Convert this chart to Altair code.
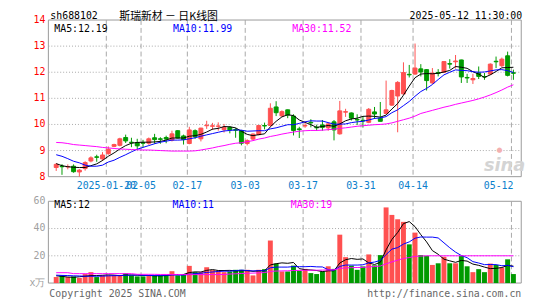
import altair as alt
import pandas as pd

# ---------------- data ----------------
idx = list(range(80))
opens = [8.35, 8.40, 8.37, 8.40, 8.18, 8.31, 8.60, 8.76, 8.68, 8.88,
         9.16, 9.20, 9.50, 9.32, 9.30, 9.30, 9.28, 9.49, 9.45, 9.50,
         9.40, 9.76, 9.56, 9.27, 9.76, 9.45, 9.95, 9.93, 9.93, 9.80,
         9.89, 9.80, 9.76, 9.27, 9.44, 9.61, 9.96, 9.96, 10.67, 10.33,
         10.56, 10.32, 9.83, 9.94, 10.08, 9.89, 9.98, 9.87, 10.10, 9.64,
         10.47, 10.44, 10.19, 10.16, 10.08, 10.48, 10.24, 10.42, 10.74, 11.09,
         11.17, 11.92, 11.93, 12.13, 12.10, 11.59, 11.99, 12.00, 12.33, 12.40,
         12.47, 11.80, 11.71, 11.97, 11.83, 11.93, 12.42, 12.25, 12.63, 11.98]
highs = [8.52, 8.48, 8.47, 8.47, 8.29, 8.59, 8.78, 8.84, 8.94, 9.16,
         9.26, 9.49, 9.61, 9.49, 9.45, 9.41, 9.50, 9.64, 9.51, 9.57,
         9.76, 9.78, 9.61, 9.91, 9.81, 9.87, 10.14, 10.06, 10.08, 10.02,
         9.94, 9.86, 9.79, 9.43, 9.66, 9.98, 10.07, 10.81, 10.89, 10.54,
         10.57, 10.39, 9.91, 10.12, 10.20, 9.99, 10.17, 10.08, 10.17, 10.90,
         10.60, 10.46, 10.39, 10.32, 10.63, 10.67, 10.86, 11.68, 11.33, 11.66,
         12.38, 12.28, 13.10, 12.31, 12.12, 12.16, 12.12, 12.42, 12.50, 12.66,
         12.48, 11.94, 11.94, 12.22, 11.97, 12.34, 12.60, 12.56, 12.79, 12.10]
lows = [8.22, 8.07, 8.28, 8.15, 8.00, 8.23, 8.55, 8.57, 8.60, 8.84,
        9.13, 9.16, 9.29, 9.13, 9.03, 9.13, 9.22, 9.26, 9.26, 9.28,
        9.35, 9.46, 9.23, 9.24, 9.45, 9.35, 9.83, 9.79, 9.76, 9.69,
        9.66, 9.49, 9.20, 9.20, 9.39, 9.58, 9.81, 9.92, 10.32, 10.29,
        10.24, 9.58, 9.48, 9.87, 9.89, 9.76, 9.76, 9.76, 9.39, 9.61,
        10.29, 10.15, 9.98, 9.88, 10.05, 10.21, 10.12, 10.40, 10.71, 9.70,
        11.15, 11.80, 11.90, 11.84, 11.30, 11.55, 11.84, 11.97, 12.14, 12.14,
        11.59, 11.59, 11.55, 11.74, 11.71, 11.90, 12.16, 12.20, 11.84, 11.71]
closes = [8.47, 8.38, 8.39, 8.19, 8.25, 8.54, 8.72, 8.74, 8.83, 9.05,
          9.23, 9.45, 9.37, 9.30, 9.18, 9.28, 9.45, 9.42, 9.43, 9.44,
          9.64, 9.48, 9.42, 9.79, 9.53, 9.86, 9.97, 9.95, 9.94, 9.89,
          9.79, 9.78, 9.28, 9.38, 9.63, 9.96, 9.94, 10.62, 10.45, 10.49,
          10.36, 9.77, 9.80, 9.96, 10.06, 9.87, 9.89, 10.02, 9.79, 10.52,
          10.49, 10.24, 10.17, 10.14, 10.58, 10.40, 10.12, 10.56, 11.30, 11.61,
          11.99, 11.90, 12.16, 12.01, 11.68, 11.97, 11.96, 12.41, 12.31, 12.43,
          11.82, 11.78, 11.76, 11.84, 11.82, 12.31, 12.40, 12.50, 11.88, 11.96]
ma5 = [8.50, 8.42, 8.38, 8.36, 8.35, 8.35, 8.42, 8.49, 8.62, 8.78,
       8.91, 9.06, 9.19, 9.28, 9.31, 9.32, 9.32, 9.33, 9.35, 9.40,
       9.48, 9.48, 9.48, 9.55, 9.57, 9.62, 9.71, 9.82, 9.85, 9.92,
       9.91, 9.87, 9.74, 9.62, 9.57, 9.61, 9.64, 9.91, 10.12, 10.29,
       10.37, 10.34, 10.17, 10.08, 9.99, 9.89, 9.92, 9.96, 9.93, 10.02,
       10.14, 10.21, 10.24, 10.31, 10.32, 10.31, 10.28, 10.36, 10.59, 10.80,
       11.12, 11.47, 11.79, 11.93, 11.95, 11.94, 11.96, 12.01, 12.07, 12.22,
       12.19, 12.15, 12.02, 11.93, 11.80, 11.90, 12.03, 12.17, 12.18, 12.19]
ma10 = [8.84, 8.78, 8.69, 8.59, 8.53, 8.44, 8.40, 8.40, 8.44, 8.56,
        8.63, 8.74, 8.84, 8.95, 9.05, 9.12, 9.19, 9.26, 9.32, 9.36,
        9.40, 9.40, 9.41, 9.45, 9.49, 9.55, 9.60, 9.65, 9.70, 9.75,
        9.77, 9.79, 9.78, 9.74, 9.75, 9.76, 9.76, 9.83, 9.87, 9.93,
        9.99, 9.99, 10.04, 10.10, 10.14, 10.13, 10.13, 10.07, 10.01, 10.01,
        10.02, 10.07, 10.10, 10.12, 10.17, 10.23, 10.25, 10.30, 10.45, 10.56,
        10.72, 10.88, 11.08, 11.26, 11.38, 11.53, 11.72, 11.90, 12.00, 12.09,
        12.07, 12.06, 12.02, 12.00, 12.01, 12.05, 12.09, 12.10, 12.06, 11.99]
ma30 = [9.31, 9.30, 9.27, 9.23, 9.21, 9.19, 9.17, 9.15, 9.12, 9.10,
        9.08, 9.06, 9.05, 9.04, 9.03, 9.02, 9.02, 9.01, 9.00, 8.99,
        8.98, 8.98, 8.98, 8.98, 8.99, 9.02, 9.06, 9.10, 9.15, 9.19,
        9.24, 9.28, 9.30, 9.34, 9.38, 9.44, 9.48, 9.54, 9.58, 9.63,
        9.67, 9.71, 9.74, 9.76, 9.77, 9.77, 9.78, 9.80, 9.82, 9.85,
        9.87, 9.90, 9.93, 9.95, 9.97, 9.99, 10.00, 10.02, 10.06, 10.12,
        10.18, 10.24, 10.32, 10.42, 10.48, 10.54, 10.60, 10.66, 10.71, 10.77,
        10.82, 10.87, 10.92, 10.98, 11.05, 11.13, 11.22, 11.32, 11.43, 11.52]
vols = [4.4, 5.6, 4.4, 4.9, 3.7, 6.6, 8.0, 4.4, 5.6, 5.6,
        5.6, 5.6, 7.1, 5.6, 4.9, 4.9, 5.6, 5.6, 5.6, 5.6,
        8.7, 5.6, 6.1, 12.6, 8.0, 8.0, 11.6, 9.5, 9.0, 8.0,
        8.5, 9.7, 9.7, 9.7, 5.6, 9.7, 10.2, 31.2, 14.3, 8.5,
        8.5, 12.8, 9.0, 10.4, 7.3, 6.6, 8.5, 12.3, 10.4, 35.5,
        19.0, 12.8, 9.7, 12.2, 21.0, 13.0, 20.5, 55.5, 50.0, 46.8,
        44.9, 28.4, 37.0, 20.5, 20.0, 13.3, 14.5, 19.3, 14.5, 14.5,
        20.0, 12.3, 8.0, 10.2, 8.0, 14.3, 13.3, 11.4, 17.4, 6.6]
vma5 = [5.3, 4.9, 4.4, 4.2, 4.6, 5.0, 5.5, 5.5, 5.7, 6.0,
        5.8, 5.4, 5.9, 5.9, 5.8, 5.6, 5.6, 5.3, 5.3, 5.5,
        6.2, 6.2, 6.3, 7.7, 8.2, 8.1, 9.3, 9.9, 9.2, 9.2,
        9.3, 8.9, 9.0, 9.1, 8.6, 8.9, 9.0, 13.3, 14.2, 14.8,
        14.5, 15.1, 10.6, 9.8, 9.6, 9.2, 8.4, 9.0, 9.0, 14.7,
        17.1, 18.0, 17.4, 17.7, 14.8, 13.6, 15.2, 24.4, 32.0, 37.1,
        43.6, 45.1, 41.4, 35.5, 30.2, 23.8, 21.1, 17.5, 16.3, 15.2,
        16.6, 16.1, 13.9, 13.0, 11.7, 10.6, 10.8, 11.4, 12.9, 12.4]
vma10 = [5.8, 5.6, 5.5, 5.3, 5.2, 5.0, 5.0, 5.0, 5.1, 5.3,
         5.4, 5.5, 5.7, 5.8, 5.9, 5.7, 5.5, 5.6, 5.6, 5.7,
         5.9, 5.9, 5.8, 6.5, 6.9, 7.2, 7.8, 8.1, 8.5, 8.7,
         8.7, 9.1, 9.5, 9.2, 8.9, 9.1, 9.0, 11.2, 11.7, 11.7,
         11.7, 12.1, 12.0, 12.0, 12.2, 11.9, 11.8, 9.8, 9.4, 12.2,
         13.2, 13.2, 13.2, 13.4, 14.8, 15.4, 16.6, 20.9, 24.9, 26.0,
         28.6, 30.2, 32.9, 33.8, 33.7, 33.7, 33.1, 29.5, 25.9, 22.7,
         20.2, 18.6, 15.7, 14.7, 13.5, 13.6, 13.5, 12.7, 13.0, 12.0]
vma30 = [7.6, 7.6, 7.6, 6.9, 6.9, 6.9, 6.9, 6.9, 6.9, 6.9,
         6.9, 6.9, 6.9, 6.9, 6.4, 6.4, 6.4, 6.4, 6.3, 6.3,
         6.3, 6.3, 6.2, 6.2, 6.2, 6.2, 6.2, 6.2, 6.2, 6.3,
         6.6, 6.8, 7.0, 7.2, 7.3, 7.5, 7.7, 8.5, 8.8, 8.9,
         9.0, 9.2, 9.3, 9.4, 9.4, 9.4, 9.5, 9.6, 9.7, 10.7,
         11.1, 11.3, 11.4, 11.5, 11.9, 12.1, 12.5, 14.1, 15.5, 16.8,
         18.0, 18.7, 19.6, 19.8, 20.0, 20.0, 20.0, 20.0, 20.0, 20.0,
         20.0, 20.0, 20.0, 20.0, 20.0, 20.0, 20.0, 20.0, 20.0, 20.0]

tick_idx = [9, 15, 23, 33, 43, 53, 62, 79]
tick_lab = ["2025-01-20", "02-05", "02-17", "03-03", "03-17", "03-31", "04-14", "05-12"]
price_ticks = [8, 9, 10, 11, 12, 13, 14]
price_grid = [9, 10, 11, 12, 13]
vol_ticks = [0, 20, 40, 60]
vol_tick_lab = ["x万", "20", "40", "60"]
vol_grid = [20, 40]

code_txt = "sh688102"
title_txt = "斯瑞新材 － 日K线图"
time_txt = "2025-05-12 11:30:00"
ma_txt = ["MA5:12.19", "MA10:11.99", "MA30:11.52"]
vma_txt = ["MA5:12", "MA10:11", "MA30:19"]
copy_txt = "Copyright 2025 SINA.COM"
url_txt = "http://finance.sina.com.cn"

# ---------------- styling ----------------
RED = "#ff5050"
GREEN = "#009a00"
GRID = "#a8a8a8"
BORDER = "#999999"
MONO = "DejaVu Sans Mono"
W, H = 480, 268

df = pd.DataFrame({"i": idx, "open": opens, "high": highs, "low": lows, "close": closes,
                   "ma5": ma5, "ma10": ma10, "ma30": ma30, "vol": vols,
                   "vma5": vma5, "vma10": vma10, "vma30": vma30})
ticks = pd.DataFrame({"i": tick_idx, "lab": tick_lab, "ptop": 14, "pbot": 8, "vtop": 60, "vbot": 0})

xs = alt.Scale(domain=[-0.5, 79.5], nice=False, zero=False)
ps = alt.Scale(domain=[8, 14], range=[159, 0], nice=False, zero=False)
vs = alt.Scale(domain=[0, 60], range=[267, 184], nice=False, zero=False)
X = alt.X("i:Q", scale=xs, axis=None)
col = alt.condition("datum.close >= datum.open", alt.value(RED), alt.value(GREEN))

base = alt.Chart(df)

def label(txt, x, y, color, align="left", size=10, font=MONO, **kw):
    return alt.Chart(pd.DataFrame({"t": [txt]})).mark_text(
        align=align, baseline="middle", color=color, fontSize=size, font=font, **kw
    ).encode(x=alt.value(x), y=alt.value(y), text="t:N")

layers = []

# panel borders
layers.append(alt.Chart(pd.DataFrame({"a": [14], "b": [8]})).mark_rect(
    fill="transparent", stroke=BORDER, strokeWidth=1).encode(
    x=alt.value(0), x2=alt.value(W), y=alt.Y("a:Q", scale=ps, axis=None), y2="b:Q"))
layers.append(alt.Chart(pd.DataFrame({"a": [60], "b": [0]})).mark_rect(
    fill="transparent", stroke=BORDER, strokeWidth=1).encode(
    x=alt.value(0), x2=alt.value(W), y=alt.Y("a:Q", scale=vs, axis=None), y2="b:Q"))

# horizontal dotted grids
layers.append(alt.Chart(pd.DataFrame({"v": price_grid})).mark_rule(
    color=GRID, strokeDash=[1, 2], strokeWidth=1).encode(
    x=alt.value(0), x2=alt.value(W), y=alt.Y("v:Q", scale=ps, axis=None)))
layers.append(alt.Chart(pd.DataFrame({"v": vol_grid})).mark_rule(
    color=GRID, strokeDash=[1, 2], strokeWidth=1).encode(
    x=alt.value(0), x2=alt.value(W), y=alt.Y("v:Q", scale=vs, axis=None)))

# vertical dashed grids
layers.append(alt.Chart(ticks).mark_rule(color=GRID, strokeDash=[5, 3], strokeWidth=1, xOffset=-2).encode(
    X, y=alt.Y("ptop:Q", scale=ps, axis=None), y2="pbot:Q"))
layers.append(alt.Chart(ticks).mark_rule(color=GRID, strokeDash=[5, 3], strokeWidth=1, xOffset=-2).encode(
    X, y=alt.Y("vtop:Q", scale=vs, axis=None), y2="vbot:Q"))

# watermark
layers.append(label("sina", 463, 148, "#d4d4d4", align="center", size=18,
                    font="DejaVu Sans", fontStyle="italic", fontWeight="bold"))
layers.append(label("●", 458, 132, "#f3b0b0", align="center", size=7, font="DejaVu Sans"))

# candles
layers.append(base.mark_rule(strokeWidth=1).encode(
    X, y=alt.Y("low:Q", scale=ps, axis=None), y2="high:Q", color=col))
layers.append(base.mark_bar(size=4, strokeWidth=1).encode(
    X, y=alt.Y("open:Q", scale=ps, axis=None), y2="close:Q", color=col, stroke=col))

# price MAs
for f, c in [("ma5", "black"), ("ma10", "#0000ff"), ("ma30", "#ff00ff")]:
    layers.append(base.mark_line(color=c, strokeWidth=1).encode(
        X, y=alt.Y(f + ":Q", scale=ps, axis=None)))

# volume bars
layers.append(base.mark_bar(size=5).encode(
    X, y=alt.Y("vol:Q", scale=vs, axis=None), y2=alt.datum(0), color=col))

# volume MAs
for f, c in [("vma5", "black"), ("vma10", "#0000ff"), ("vma30", "#ff00ff")]:
    layers.append(base.mark_line(color=c, strokeWidth=1).encode(
        X, y=alt.Y(f + ":Q", scale=vs, axis=None)))

# axis labels
layers.append(alt.Chart(pd.DataFrame({"v": price_ticks, "t": [str(v) for v in price_ticks]})).mark_text(
    align="right", baseline="middle", color="#ff0000", fontSize=10, font=MONO).encode(
    x=alt.value(-3), y=alt.Y("v:Q", scale=ps, axis=None), text="t:N"))
layers.append(alt.Chart(pd.DataFrame({"v": vol_ticks, "t": vol_tick_lab})).mark_text(
    align="right", baseline="middle", color="#a0a0a0", fontSize=10, font=MONO).encode(
    x=alt.value(-3), y=alt.Y("v:Q", scale=vs, axis=None), text="t:N"))

# date labels
layers.append(alt.Chart(ticks.iloc[:-1]).mark_text(
    align="center", baseline="middle", color="#0a80cc", fontSize=10, font=MONO, dx=-2).encode(
    X, y=alt.value(169), text="lab:N"))
layers.append(alt.Chart(ticks.iloc[-1:]).mark_text(
    align="right", baseline="middle", color="#0a80cc", fontSize=10, font=MONO, dx=0).encode(
    X, y=alt.value(169), text="lab:N"))

# header / legends / footer
layers.append(label(code_txt, 2, -4.5, "black"))
layers.append(label(title_txt, 72, -2.8, "black", size=11, font="Noto Sans CJK SC"))
layers.append(label(time_txt, 481, -4.5, "black", align="right"))
layers.append(label(ma_txt[0], 6, 9, "black"))
layers.append(label(ma_txt[1], 126.5, 9, "#0000ff"))
layers.append(label(ma_txt[2], 247.5, 9, "#ff00ff"))
layers.append(label(vma_txt[0], 6, 188, "black"))
layers.append(label(vma_txt[1], 126, 188, "#0000ff"))
layers.append(label(vma_txt[2], 246, 188, "#ff00ff"))
layers.append(label(copy_txt, 1, 278, "#666666"))
layers.append(label(url_txt, 480, 278, "#666666", align="right"))

chart = alt.layer(*layers).resolve_scale(y="independent").properties(
    width=W, height=H,
    autosize=alt.AutoSizeParams(type="none"),
    padding={"left": 41, "top": 10, "right": 16, "bottom": 14},
    background="white",
).configure_view(strokeWidth=0)

chart.save("out.html", embed_options={"renderer": "svg", "actions": False})
